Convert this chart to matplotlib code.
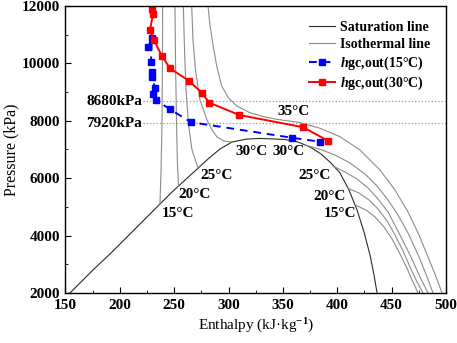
# CO2 pressure-enthalpy chart with gas cooler outlet states at two ambient temperatures

import matplotlib
matplotlib.use("Agg")
from matplotlib import pyplot as plt
from matplotlib.ticker import MultipleLocator

plt.rcParams["font.family"] = "Liberation Serif"
plt.rcParams["font.weight"] = "bold"
plt.rcParams["mathtext.fontset"] = "custom"
plt.rcParams["mathtext.rm"] = "Liberation Serif:bold"
plt.rcParams["mathtext.bf"] = "Liberation Serif:bold"
plt.rcParams["mathtext.it"] = "Liberation Serif:italic:bold"

# saturation dome (liquid side -> vapour side)
sat_h = [154.1, 175.3, 190.9, 206.6, 221.3, 236.9, 248.0, 259.0, 270.1, 281.1, 292.1, 303.2, 316.1,
         328.0, 340.0, 351.9, 363.9, 374.9, 385.1, 394.2, 402.5, 410.8, 418.2, 424.6, 430.1, 433.8, 436.6]
sat_p = [2000, 2801, 3359, 3951, 4509, 5101, 5519, 5902, 6286, 6669, 7017, 7261, 7360,
         7385, 7370, 7348, 7261, 7087, 6843, 6530, 6181, 5589, 4892, 4125, 3324, 2627, 2000]

# isotherms, liquid side
iso15_liq_h = [239.4, 239.2, 238.8, 237.9, 236.9]
iso15_liq_p = [12000, 10118, 8028, 6286, 5101]
iso20_liq_h = [250.7, 251.2, 252.1, 253.0, 254.0]
iso20_liq_p = [12000, 10118, 8028, 6460, 5728]
iso25_liq_h = [258.4, 259.5, 260.9, 263.2, 266.4, 271.9]
iso25_liq_p = [12000, 10467, 9073, 7854, 6983, 6355]
iso30_liq_h = [266.1, 267.3, 269.6, 273.7, 280.2, 284.8, 289.4, 295.8, 303.2]
iso30_liq_p = [12000, 10815, 9770, 8725, 8028, 7679, 7436, 7296, 7261]

# isotherms, vapour side
iso15_vap_h = [417.3, 426.4, 434.7, 443.0, 450.4, 456.8, 463.2, 468.8, 474.3]
iso15_vap_p = [5052, 4892, 4648, 4300, 3882, 3429, 2941, 2453, 2000]
iso20_vap_h = [409.9, 420.0, 429.2, 437.5, 445.8, 453.1, 460.5, 466.9, 473.4, 478.9]
iso20_vap_p = [5645, 5484, 5240, 4927, 4509, 4021, 3463, 2906, 2383, 2000]
iso25_vap_h = [397.5, 407.1, 418.2, 428.3, 437.5, 446.7, 457.7, 467.8, 476.1, 483.5]
iso25_vap_p = [6395, 6216, 5972, 5659, 5275, 4822, 4021, 3254, 2558, 2000]
iso30_vap_h = [370.3, 386.0, 397.9, 411.7, 425.5, 436.6, 446.7, 455.9, 466.0, 475.2, 482.6, 488.1]
iso30_vap_p = [7160, 6983, 6808, 6530, 6146, 5728, 5240, 4718, 4021, 3254, 2558, 2000]

# supercritical isotherm (35 C)
iso35_h = [281.1, 282.9, 285.7, 289.1, 293.7, 299.8, 307.5, 319.7, 331.7, 344.3, 365.7, 384.1,
           402.5, 420.9, 439.3, 453.1, 465.1, 475.2, 483.5, 490.9, 496.4]
iso35_p = [12000, 11338, 10641, 9909, 9213, 8805, 8516, 8282, 8150, 8052, 7941, 7739,
           7446, 6983, 6286, 5589, 4822, 4021, 3254, 2558, 2000]

# gas cooler outlet states
gc15_h = [226.2, 229.3, 228.7, 229.9, 229.9, 232.3, 230.2, 233.3, 246.1, 265.5, 358.1, 384.1]
gc15_p = [10582, 10875, 10059, 9711, 9537, 9132, 8923, 8725, 8401, 7950, 7411, 7272]
gc30_h = [229.6, 230.5, 227.7, 231.4, 238.5, 246.1, 263.4, 275.3, 282.3, 309.9, 368.8, 391.2]
gc30_p = [11895, 11721, 11164, 10815, 10268, 9829, 9397, 8979, 8631, 8202, 7774, 7307]

# optimal pressures
opt_pressures = [8680, 7920]
opt_labels = ["8680kPa", "7920kPa"]

# temperature labels
temp_labels = ["15°C", "20°C", "25°C", "30°C", "30°C", "35°C", "25°C", "20°C", "15°C"]
temp_label_h = [253.5, 269.1, 289.4, 320.7, 355.6, 360.2, 379.5, 393.3, 402.5]
temp_label_p = [4787, 5415, 6111, 6913, 6913, 8307, 6111, 5345, 4787]

fig = plt.figure(figsize=(4.57, 3.43), dpi=100)
ax = fig.add_axes([0.1433, 0.1458, 0.8326, 0.8367])

sat_color = "#2b2b2b"
iso_color = "#8c8c8c"

ax.plot(sat_h, sat_p, color=sat_color, linewidth=0.8, label="Saturation line")

iso_h = [iso15_liq_h, iso20_liq_h, iso25_liq_h, iso30_liq_h,
         iso15_vap_h, iso20_vap_h, iso25_vap_h, iso30_vap_h, iso35_h]
iso_p = [iso15_liq_p, iso20_liq_p, iso25_liq_p, iso30_liq_p,
         iso15_vap_p, iso20_vap_p, iso25_vap_p, iso30_vap_p, iso35_p]
for i in range(len(iso_h)):
    ax.plot(iso_h[i], iso_p[i], color=iso_color, linewidth=0.8,
            label="Isothermal line" if i == 0 else None)

for p, text in zip(opt_pressures, opt_labels):
    ax.plot([221.5, 500], [p, p], color="#9a9a9a", linestyle=":", linewidth=0.9)
    ax.text(220.5, p, text, ha="right", va="center", fontsize=11)

ax.plot(gc15_h, gc15_p, color="#0000ff", linestyle=(0, (4, 3)), linewidth=1.4,
        marker="s", markersize=5, label=r"$h$gc,out(15°C)")
ax.plot(gc30_h, gc30_p, color="#ff0000", linestyle="-", linewidth=1.4,
        marker="s", markersize=5, label=r"$h$gc,out(30°C)")

for text, h, p in zip(temp_labels, temp_label_h, temp_label_p):
    ax.text(h, p, text, ha="center", va="center", fontsize=11)

ax.set_xlim(150, 500)
ax.set_ylim(2000, 12000)
ax.xaxis.set_major_locator(MultipleLocator(50))
ax.xaxis.set_minor_locator(MultipleLocator(25))
ax.yaxis.set_major_locator(MultipleLocator(2000))
ax.yaxis.set_minor_locator(MultipleLocator(1000))
ax.tick_params(which="both", direction="in", top=False, right=False, labelsize=11)
ax.tick_params(which="major", length=4, pad=4)
ax.tick_params(which="minor", length=2.5)
for spine in ax.spines.values():
    spine.set_linewidth(1.0)

ax.set_xlabel(r"Enthalpy (kJ·kg$^{-1}$)", fontsize=11, labelpad=4)
ax.set_ylabel("Pressure (kPa)", fontsize=11.5, labelpad=2)

ax.legend(loc="upper right", frameon=False, fontsize=10, handlelength=1.9,
          labelspacing=0.25, borderaxespad=0.7, handletextpad=0.4)

fig.savefig("out.png", dpi=100)
